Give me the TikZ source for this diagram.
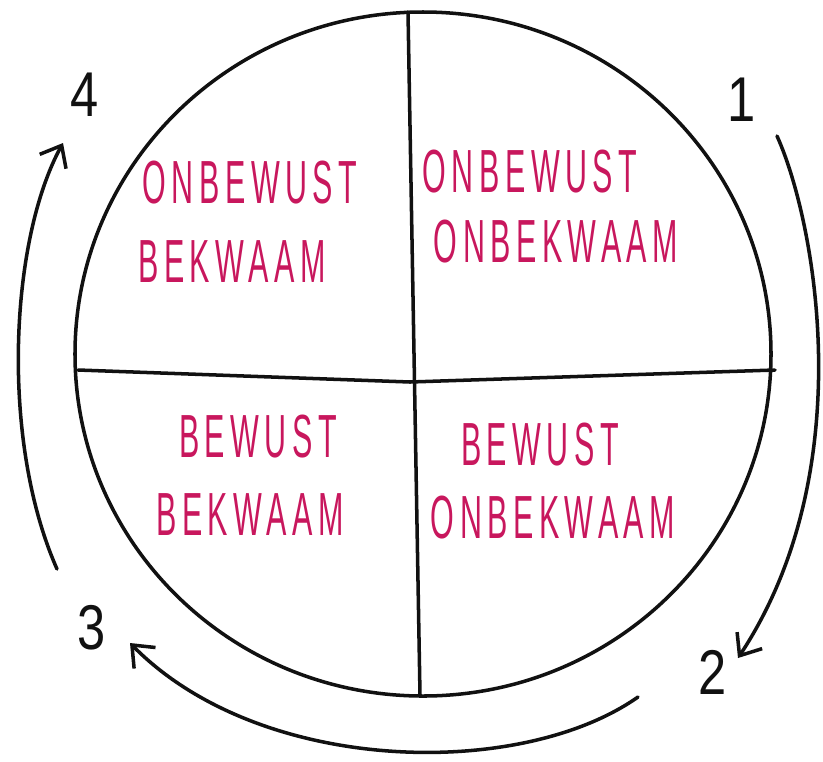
\documentclass[tikz,border=0pt]{standalone}
\usepackage{fontspec}
\usepackage{tikz}
\usetikzlibrary{arrows.meta,positioning}
\newfontfamily\handfont[FakeStretch=0.5, LetterSpace=9]{Liberation Sans}
\newfontfamily\numfont[FakeStretch=0.8]{Liberation Sans}
\definecolor{qdink}  {HTML}{111111}
\definecolor{qdpink} {HTML}{C8175D}
\tikzset{
  qdline/.style={draw=qdink, line width=3pt, line cap=round},
  qdarrow/.style={qdline, -{Straight Barb[length=5.5mm, width=9mm, line width=3pt]}},
  qdword/.style={text=qdpink, inner sep=0pt, font=\handfont\fontsize{52}{58}\selectfont},
  qdnum/.style={text=qdink, inner sep=0pt, font=\numfont\fontsize{54}{60}\selectfont},
}

\begin{document}
\begin{tikzpicture}[x=0.3mm,y=-0.3mm]
  \useasboundingbox (0,0) rectangle (823,761);
  % the circle and its two cross lines
  \coordinate (mid) at (423,354);
  \draw[qdline] (mid) ellipse [x radius=104.4mm, y radius=102.6mm];
  \coordinate (top) at (408,12);
  \coordinate (bot) at (420,695);
  \coordinate (lft) at (78,370);
  \coordinate (rgt) at (775,370);
  \coordinate (cross) at (410,382);
  \draw[qdline] (top) -- (bot);
  \draw[qdline] (lft) -- (cross) -- (rgt);

  % quadrant words
  \node[qdword] (tl1) at (250,183) {ONBEWUST};
  \node[qdword] (tl2) at (232,262) {BEKWAAM};
  \node[qdword] (tr1) at (530,172) {ONBEWUST};
  \node[qdword] (tr2) at (556,242) {ONBEKWAAM};
  \node[qdword] (bl1) at (258,437) {BEWUST};
  \node[qdword] (bl2) at (250,515) {BEKWAAM};
  \node[qdword] (br1) at (540,445) {BEWUST};
  \node[qdword] (br2) at (553,518) {ONBEKWAAM};

  % the steps
  \node[qdnum] (n1) at (742,100) {1};
  \node[qdnum] (n2) at (713,672) {2};
  \node[qdnum] (n3) at (92,628) {3};
  \node[qdnum] (n4) at (85,95) {4};

  \coordinate (a12s) at (777,136);
  \coordinate (a12e) at (738,658);
  \coordinate (a23s) at (638,697);
  \coordinate (a23e) at (130,643);
  \coordinate (a34s) at (57,569);
  \coordinate (a34e) at (63,143);
  \draw[qdarrow] (a12s) .. controls (815,220) and (862,470) .. (a12e);
  \draw[qdarrow] (a23s) .. controls (520,780) and (260,775) .. (a23e);
  \draw[qdarrow] (a34s) .. controls (0,440) and (10,240) .. (a34e);
\end{tikzpicture}
\end{document}
